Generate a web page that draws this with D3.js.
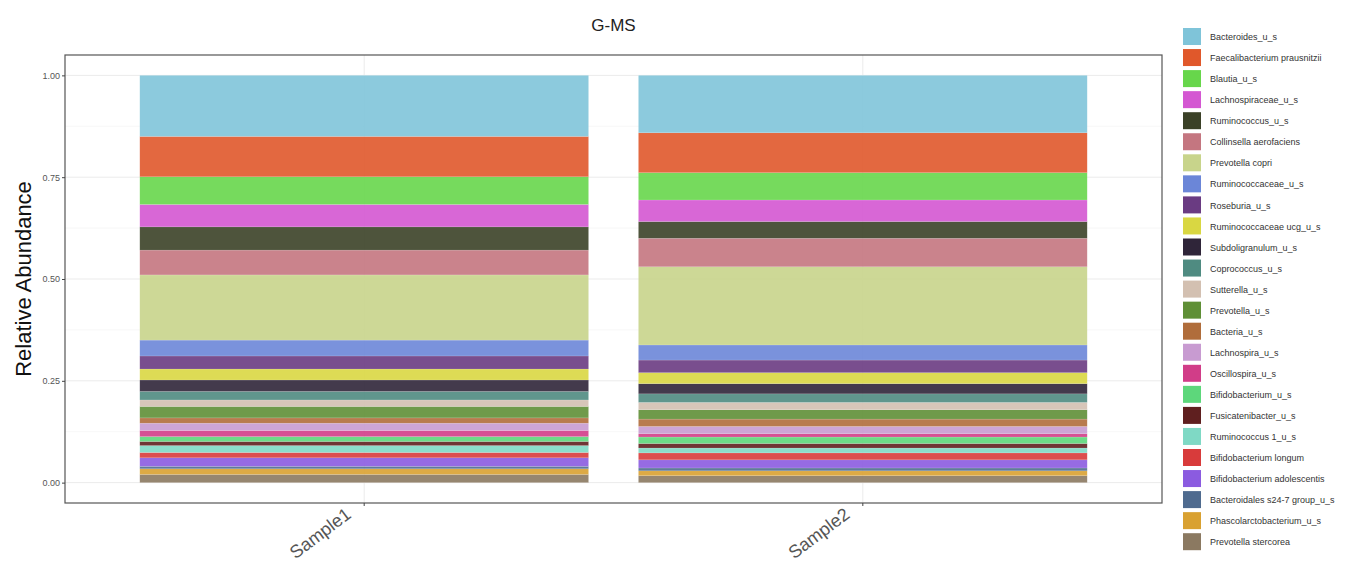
<!DOCTYPE html>
<html>
<head>
<meta charset="utf-8">
<script src="https://cdn.jsdelivr.net/npm/d3@7"></script>
<style>
  body { margin: 0; background: #fff; font-family: "Liberation Sans", Arial, sans-serif; }
</style>
</head>
<body>
<div id="chart"></div>
<script>
"use strict";

// taxa, top of the stack first
const taxa = [
  "Bacteroides_u_s", "Faecalibacterium prausnitzii", "Blautia_u_s", "Lachnospiraceae_u_s",
  "Ruminococcus_u_s", "Collinsella aerofaciens", "Prevotella copri", "Ruminococcaceae_u_s",
  "Roseburia_u_s", "Ruminococcaceae ucg_u_s", "Subdoligranulum_u_s", "Coprococcus_u_s",
  "Sutterella_u_s", "Prevotella_u_s", "Bacteria_u_s", "Lachnospira_u_s", "Oscillospira_u_s",
  "Bifidobacterium_u_s", "Fusicatenibacter_u_s", "Ruminococcus 1_u_s", "Bifidobacterium longum",
  "Bifidobacterium adolescentis", "Bacteroidales s24-7 group_u_s", "Phascolarctobacterium_u_s",
  "Prevotella stercorea"
];

const taxaColors = [
  "#7fc4d9", "#e0582b", "#67d64b", "#d457d2", "#3b4127", "#c47680", "#c8d48b", "#6b86d8",
  "#6a3b82", "#d9d742", "#2f2539", "#4f8b81", "#d3c0b1", "#5f8f36", "#b06d3b", "#c89bd1",
  "#d13d88", "#5dd77b", "#5f1f1f", "#7fd9c5", "#d83b3b", "#8b5be0", "#4f6b8f", "#d9a131",
  "#8b7961"
];

const samples = ["Sample1", "Sample2"];

const sample1 = [0.150, 0.099, 0.068, 0.055, 0.057, 0.061, 0.160, 0.039, 0.032, 0.027, 0.028, 0.021,
  0.016, 0.028, 0.013, 0.018, 0.015, 0.012, 0.010, 0.017, 0.013, 0.021, 0.006, 0.014, 0.020];
const sample2 = [0.141, 0.098, 0.067, 0.053, 0.041, 0.070, 0.192, 0.037, 0.031, 0.027, 0.025, 0.021,
  0.018, 0.023, 0.018, 0.018, 0.008, 0.016, 0.011, 0.012, 0.017, 0.020, 0.007, 0.012, 0.017];

const yTicks = [0, 0.25, 0.5, 0.75, 1];
const yTickLabels = ["0.00", "0.25", "0.50", "0.75", "1.00"];

const size = { width: 1366, height: 565 };
const panel = { left: 65, right: 1162, top: 55, bottom: 503 };

const svg = d3.select("#chart").append("svg")
  .attr("width", size.width)
  .attr("height", size.height);

const x = d3.scaleBand()
  .domain(samples)
  .range([panel.left, panel.right])
  .paddingInner(0.1)
  .paddingOuter(0.15);

const y = d3.scaleLinear()
  .domain([-0.05, 1.05])
  .range([panel.bottom, panel.top]);

const color = d3.scaleOrdinal().domain(taxa).range(taxaColors);

// grid
const minor = [0.125, 0.375, 0.625, 0.875];
svg.append("g").selectAll("line").data(minor).enter().append("line")
  .attr("x1", panel.left).attr("x2", panel.right)
  .attr("y1", d => y(d)).attr("y2", d => y(d))
  .attr("stroke", "#f2f2f2").attr("stroke-width", 0.6);
svg.append("g").selectAll("line").data(yTicks).enter().append("line")
  .attr("x1", panel.left).attr("x2", panel.right)
  .attr("y1", d => y(d)).attr("y2", d => y(d))
  .attr("stroke", "#ebebeb").attr("stroke-width", 1);
svg.append("g").selectAll("line").data(samples).enter().append("line")
  .attr("x1", d => x(d) + x.bandwidth() / 2).attr("x2", d => x(d) + x.bandwidth() / 2)
  .attr("y1", panel.top).attr("y2", panel.bottom)
  .attr("stroke", "#ebebeb").attr("stroke-width", 1);

// stacked bars, bottom taxon first
const rows = samples.map((s, i) => {
  const vals = i === 0 ? sample1 : sample2;
  const row = { sample: s };
  taxa.forEach((t, j) => { row[t] = vals[j]; });
  return row;
});
const stack = d3.stack().keys(taxa.slice().reverse());
const series = stack(rows);

svg.append("g").selectAll("g")
  .data(series)
  .enter().append("g")
  .attr("fill", d => color(d.key))
  .selectAll("rect")
  .data(d => d)
  .enter().append("rect")
  .attr("x", d => x(d.data.sample))
  .attr("width", x.bandwidth())
  .attr("y", d => y(d[1]))
  .attr("height", d => y(d[0]) - y(d[1]))
  .attr("fill-opacity", 0.9)
  .attr("stroke", "#ffffff")
  .attr("stroke-opacity", 0.25)
  .attr("stroke-width", 0.5);

// panel border
svg.append("rect")
  .attr("x", panel.left).attr("y", panel.top)
  .attr("width", panel.right - panel.left).attr("height", panel.bottom - panel.top)
  .attr("fill", "none").attr("stroke", "#555").attr("stroke-width", 1.2);

// y axis
const yAxis = d3.axisLeft(y).tickValues(yTicks).tickSize(3)
  .tickFormat((d, i) => yTickLabels[i]);
const gy = svg.append("g").attr("transform", "translate(" + panel.left + ",0)").call(yAxis);
gy.select(".domain").remove();
gy.selectAll(".tick line").attr("stroke", "#444");
gy.selectAll(".tick text").attr("fill", "#555").style("font-size", "9px")
  .style("font-family", "Liberation Sans, Arial, sans-serif").attr("x", -5);

// x axis
const xAxis = d3.axisBottom(x).tickSize(3);
const gx = svg.append("g").attr("transform", "translate(0," + panel.bottom + ")").call(xAxis);
gx.select(".domain").remove();
gx.selectAll(".tick line").attr("stroke", "#444");
gx.selectAll(".tick text")
  .attr("fill", "#555")
  .style("font-size", "18px")
  .style("font-family", "Liberation Sans, Arial, sans-serif")
  .attr("text-anchor", "end")
  .attr("dy", "0.75em")
  .attr("y", 0)
  .attr("transform", "translate(-20,3) rotate(-37)");

// titles
svg.append("text")
  .attr("x", (panel.left + panel.right) / 2)
  .attr("y", 31)
  .attr("text-anchor", "middle")
  .style("font-size", "17px")
  .attr("fill", "#222")
  .text("G-MS");

svg.append("text")
  .attr("transform", "translate(31," + ((panel.top + panel.bottom) / 2) + ") rotate(-90)")
  .attr("text-anchor", "middle")
  .style("font-size", "22px")
  .attr("fill", "#111")
  .text("Relative Abundance");

// legend
const legend = svg.append("g").attr("transform", "translate(1183,28)");
const items = legend.selectAll("g").data(taxa).enter().append("g")
  .attr("transform", (d, i) => "translate(0," + (i * 21.05) + ")");
items.append("rect")
  .attr("width", 18).attr("height", 17)
  .attr("fill", d => color(d));
items.append("text")
  .attr("x", 27).attr("y", 9)
  .attr("dy", "0.35em")
  .style("font-size", "9px")
  .attr("fill", "#333")
  .text(d => d);
</script>
</body>
</html>
